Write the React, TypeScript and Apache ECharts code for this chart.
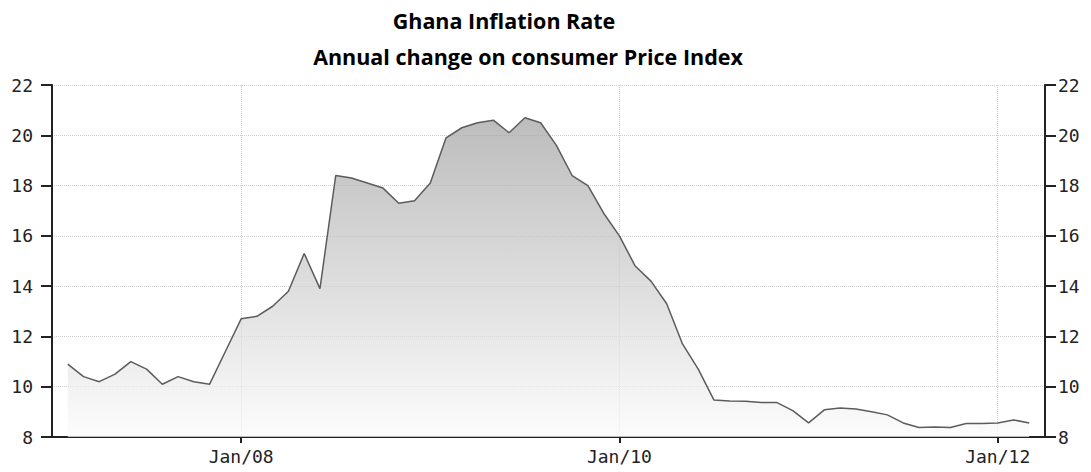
import React, { useEffect, useRef } from "react";
import * as echarts from "echarts";

const titleText = "Ghana Inflation Rate";
const subtitleText = "Annual change on consumer Price Index";

const monthNames = ["Jan", "Feb", "Mar", "Apr", "May", "Jun", "Jul", "Aug", "Sep", "Oct", "Nov", "Dec"];
const years = ["07", "08", "09", "10", "11", "12"];
// axis positions: Jan/07 ... Apr/12
const categories: string[] = [];
years.forEach((y) => monthNames.forEach((m) => categories.push(`${m}/${y}`)));
categories.splice(categories.indexOf("Apr/12") + 1);

const shownLabels = ["Jan/08", "Jan/10", "Jan/12"];

// values, one per axis position (null where no point is drawn)
const inflation: (number | null)[] = [
  null,
  10.9, 10.4, 10.2, 10.5, 11.0, 10.7, 10.1, 10.4, 10.2, 10.1, 11.4,
  12.7, 12.8, 13.2, 13.8, 15.3, 13.9, 18.4, 18.3, 18.1, 17.9, 17.3, 17.4,
  18.1, 19.9, 20.3, 20.5, 20.6, 20.1, 20.7, 20.5, 19.6, 18.4, 18.0, 16.9,
  16.0, 14.8, 14.2, 13.3, 11.7, 10.7, 9.47, 9.43, 9.42, 9.37, 9.37, 9.05,
  8.56, 9.08, 9.15, 9.11, 9.0, 8.88, 8.56, 8.38, 8.4, 8.38, 8.54, 8.54,
  8.56, 8.68, 8.56,
  null,
];

const yMin = 8;
const yMax = 22;
const yStep = 2;

export default function App() {
  const ref = useRef<HTMLDivElement>(null);
  useEffect(() => {
    if (!ref.current) return;
    const chart = echarts.init(ref.current, undefined, { renderer: "svg" });
    const axisFont = {
      fontFamily: "DejaVu Sans Mono",
      fontSize: 18,
      color: "#222",
    };
    const show = (_i: number, v: string) => shownLabels.includes(v);
    const yAxisCommon = {
      type: "value",
      min: yMin,
      max: yMax,
      interval: yStep,
      axisLine: { show: true, lineStyle: { color: "#222", width: 2 } },
      axisTick: { show: true, length: 11, lineStyle: { color: "#222", width: 2 } },
    };
    chart.setOption({
      animation: false,
      backgroundColor: "#fff",
      title: [
        {
          text: titleText,
          left: 499,
          top: 4,
          textAlign: "center",
          textStyle: { fontFamily: "Open Sans", fontWeight: "bold", fontSize: 21.5, color: "#000" },
        },
        {
          text: subtitleText,
          left: 523,
          top: 40,
          textAlign: "center",
          textStyle: { fontFamily: "Open Sans", fontWeight: "bold", fontSize: 21.5, color: "#000" },
        },
      ],
      grid: { left: 52, right: 46, top: 85, bottom: 35 },
      xAxis: {
        type: "category",
        data: categories,
        boundaryGap: false,
        axisLine: { show: true, lineStyle: { color: "#222", width: 2 } },
        axisTick: { show: true, interval: show, length: 6, lineStyle: { color: "#222", width: 2 } },
        axisLabel: { interval: show, margin: 10, ...axisFont },
        splitLine: { show: true, interval: show, lineStyle: { color: "#d0d0d0", type: "dotted", width: 1 } },
      },
      yAxis: [
        {
          ...yAxisCommon,
          position: "left",
          axisLabel: { margin: 19, ...axisFont },
          splitLine: { show: true, lineStyle: { color: "#cfcfcf", type: "dotted", width: 1 } },
        },
        {
          ...yAxisCommon,
          position: "right",
          axisLabel: { margin: 13, ...axisFont },
          splitLine: { show: false },
        },
      ],
      series: [
        {
          type: "line",
          data: inflation,
          symbol: "none",
          connectNulls: false,
          lineStyle: { color: "#5c5c5c", width: 1.5 },
          areaStyle: {
            color: new echarts.graphic.LinearGradient(0, 0, 0, 1, [
              { offset: 0, color: "#a0a0a0" },
              { offset: 1, color: "#fbfbfb" },
            ]),
          },
        },
      ],
    });
    return () => chart.dispose();
  }, []);
  return (
    <div
      ref={ref}
      style={{ position: "fixed", left: 0, top: 0, width: 1091, height: 472 }}
    />
  );
}
